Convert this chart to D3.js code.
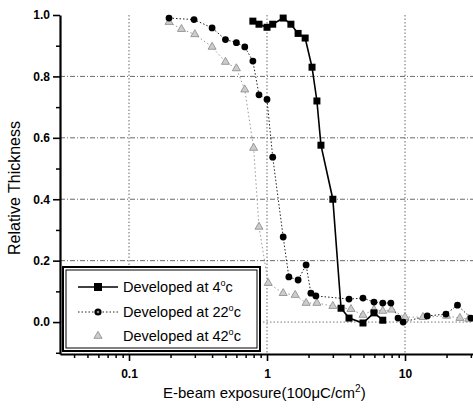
<!DOCTYPE html>
<html>
<head>
<meta charset="utf-8">
<script src="https://cdn.jsdelivr.net/npm/d3@7"></script>
<style>
body { margin:0; background:#fff; }
</style>
</head>
<body>
<div id="grafico"></div>
<script>
const WIDTH = 473;
const HEIGHT = 411;

// 4 C, black squares, solid line
const exp4 = [0.79, 0.875, 1.0, 1.1, 1.31, 1.49, 1.68, 1.89, 2.12, 2.3, 2.46, 3.0, 3.44, 3.93, 4.96, 5.96, 6.9];
const thick4 = [0.98, 0.97, 0.96, 0.97, 0.99, 0.97, 0.94, 0.925, 0.83, 0.72, 0.576, 0.40, 0.045, 0.013, -0.003, 0.03, 0.006];

// 22 C, black circles, dotted line
const exp22 = [0.195, 0.296, 0.40, 0.50, 0.60, 0.69, 0.79, 0.875, 1.0, 1.1, 1.31, 1.44, 1.68, 1.92, 2.08, 2.26, 3.93, 4.96, 5.96, 6.9, 7.9, 8.9, 9.7, 14.5, 19.8, 24, 30];
const thick22 = [0.99, 0.985, 0.958, 0.92, 0.91, 0.896, 0.85, 0.74, 0.725, 0.537, 0.277, 0.147, 0.137, 0.186, 0.094, 0.085, 0.075, 0.078, 0.065, 0.062, 0.062, 0.013, 0.0, 0.02, 0.026, 0.055, 0.013];

// 42 C, grey triangles, dotted line
const exp42 = [0.195, 0.24, 0.30, 0.40, 0.50, 0.60, 0.69, 0.80, 0.875, 1.02, 1.31, 1.6, 1.92, 2.3, 3.0, 4.06, 4.96, 5.96, 6.9, 8.0, 10, 13.5, 20, 25, 29];
const thick42 = [0.977, 0.954, 0.937, 0.896, 0.847, 0.826, 0.757, 0.567, 0.31, 0.127, 0.094, 0.088, 0.062, 0.062, 0.052, 0.042, 0.023, 0.04, 0.036, 0.04, 0.016, 0.016, 0.02, 0.013, 0.01];

const xTicks = [0.1, 1, 10];
const yTicks = [0.0, 0.2, 0.4, 0.6, 0.8, 1.0];
const legendNames = ["4", "22", "42"];

let svg = d3.select("#grafico")
    .append("svg")
    .attr("width", WIDTH)
    .attr("height", HEIGHT);

let x = d3.scaleLog()
    .domain([Math.pow(10, -1.5), Math.pow(10, 1.5)])
    .range([60, 474]);
let y = d3.scaleLinear()
    .domain([-0.104, 1.0])
    .range([354, 15]);

// grid
let grid = svg.append("g");
grid.selectAll(".hgrid")
    .data(yTicks.filter(d => d > 0 && d < 1))
    .enter()
    .append("line")
    .attr("x1", 60).attr("x2", 474)
    .attr("y1", d => y(d)).attr("y2", d => y(d))
    .style("stroke", "#444")
    .style("stroke-width", 0.8)
    .style("stroke-dasharray", "5,2,1,2");
grid.append("line")
    .attr("x1", 60).attr("x2", 474)
    .attr("y1", y(0)).attr("y2", y(0))
    .style("stroke", "#555")
    .style("stroke-width", 0.8)
    .style("stroke-dasharray", "1.5,2");
grid.selectAll(".vgrid")
    .data(xTicks)
    .enter()
    .append("line")
    .attr("x1", d => x(d)).attr("x2", d => x(d))
    .attr("y1", 15).attr("y2", 354)
    .style("stroke", "#444")
    .style("stroke-width", 0.8)
    .style("stroke-dasharray", "1.5,2");

// axes
let xMinor = [];
for (let e = -2; e <= 1; e++) {
    for (let m = 1; m <= 9; m++) {
        let v = m * Math.pow(10, e);
        if (v >= x.domain()[0] && v <= x.domain()[1]) xMinor.push(v);
    }
}
svg.append("g")
    .attr("transform", "translate(0,354)")
    .call(d3.axisBottom(x).tickValues(xMinor.filter(v => !xTicks.includes(v))).tickSize(4).tickFormat(""))
    .call(g => g.select(".domain").remove())
    .call(g => g.selectAll("line").style("stroke-width", 1.5));
let xAxis = svg.append("g")
    .attr("transform", "translate(0,354)")
    .call(d3.axisBottom(x).tickValues(xTicks).tickSize(7).tickSizeOuter(0).tickPadding(8)
        .tickFormat(d => d3.format("~g")(d)));
xAxis.select(".domain").style("stroke-width", 2.2);
xAxis.selectAll("line").style("stroke-width", 1.6);
xAxis.selectAll("text")
    .style("font-family", "Arial, 'Liberation Sans'")
    .style("font-size", "12px")
    .style("font-weight", "bold");

let yMinor = d3.range(-0.1, 1.0, 0.2).map(v => +v.toFixed(1));
svg.append("g")
    .attr("transform", "translate(60,0)")
    .call(d3.axisLeft(y).tickValues(yMinor).tickSize(4).tickFormat(""))
    .call(g => g.select(".domain").remove())
    .call(g => g.selectAll("line").style("stroke-width", 1.5));
let yAxis = svg.append("g")
    .attr("transform", "translate(60,0)")
    .call(d3.axisLeft(y).tickValues(yTicks).tickSize(7).tickSizeOuter(0).tickPadding(3)
        .tickFormat(d3.format(".1f")));
yAxis.select(".domain").style("stroke-width", 2.2);
yAxis.selectAll("line").style("stroke-width", 1.6);
yAxis.selectAll("text")
    .style("font-family", "Arial, 'Liberation Sans'")
    .style("font-size", "12px")
    .style("font-weight", "bold");

// series
let line = d3.line().x(d => x(d[0])).y(d => y(d[1]));
let s4 = d3.zip(exp4, thick4);
let s22 = d3.zip(exp22, thick22);
let s42 = d3.zip(exp42, thick42);

svg.append("path").datum(s42).attr("d", line)
    .style("fill", "none").style("stroke", "#999").style("stroke-width", 1)
    .style("stroke-dasharray", "1.5,2.5");
svg.append("path").datum(s22).attr("d", line)
    .style("fill", "none").style("stroke", "#222").style("stroke-width", 1)
    .style("stroke-dasharray", "1.5,2");
svg.append("path").datum(s4).attr("d", line)
    .style("fill", "none").style("stroke", "#000").style("stroke-width", 1.6);

let tri = d3.symbol().type(d3.symbolTriangle).size(28);
svg.selectAll(".t42").data(s42).enter().append("path")
    .attr("transform", d => "translate(" + x(d[0]) + "," + y(d[1]) + ")")
    .attr("d", tri)
    .style("fill", "#ccc").style("stroke", "#888").style("stroke-width", 0.8);
svg.selectAll(".c22").data(s22).enter().append("circle")
    .attr("cx", d => x(d[0])).attr("cy", d => y(d[1])).attr("r", 3.4)
    .style("fill", "#000");
svg.selectAll(".q4").data(s4).enter().append("rect")
    .attr("x", d => x(d[0]) - 3.5).attr("y", d => y(d[1]) - 3.5)
    .attr("width", 7).attr("height", 7)
    .style("fill", "#000");

// legend
let leg = svg.append("g");
leg.append("rect").attr("x", 63).attr("y", 267).attr("width", 197).attr("height", 84)
    .style("fill", "#fff").style("stroke", "#000").style("stroke-width", 2);
leg.append("rect").attr("x", 66).attr("y", 270).attr("width", 191).attr("height", 78)
    .style("fill", "none").style("stroke", "#000").style("stroke-width", 1);

let legY = [287, 312, 336];
leg.append("line").attr("x1", 78).attr("x2", 118).attr("y1", legY[0]).attr("y2", legY[0])
    .style("stroke", "#000").style("stroke-width", 1.6);
leg.append("rect").attr("x", 94).attr("y", legY[0] - 4).attr("width", 8).attr("height", 8).style("fill", "#000");
leg.append("line").attr("x1", 78).attr("x2", 118).attr("y1", legY[1]).attr("y2", legY[1])
    .style("stroke", "#222").style("stroke-width", 1).style("stroke-dasharray", "1.5,2");
leg.append("circle").attr("cx", 98).attr("cy", legY[1]).attr("r", 3.6).style("fill", "#000");
leg.append("circle").attr("cx", 98).attr("cy", legY[1]).attr("r", 1.3).style("fill", "#888");
leg.append("path").attr("transform", "translate(98," + legY[2] + ")").attr("d", tri)
    .style("fill", "#ccc").style("stroke", "#888").style("stroke-width", 0.8);

legendNames.forEach((n, i) => {
    let t = leg.append("text")
        .attr("x", 123).attr("y", legY[i] + 5)
        .style("font-family", "Arial, 'Liberation Sans'")
        .style("font-size", "14.5px")
        .style("fill", "#000");
    t.append("tspan").text("Developed at " + n);
    t.append("tspan").attr("dy", -6).style("font-size", "9px").text("o");
    t.append("tspan").attr("dy", 6).text("c");
});

// axis labels
svg.append("text")
    .attr("transform", "translate(20,188) rotate(-90)")
    .attr("text-anchor", "middle")
    .style("font-family", "Arial, 'Liberation Sans'")
    .style("font-size", "16px")
    .style("fill", "#000")
    .text("Relative Thickness");

let xl = svg.append("text")
    .attr("x", 163).attr("y", 398)
    .style("font-family", "Arial, 'Liberation Sans'")
    .style("font-size", "15px")
    .style("fill", "#000");
xl.append("tspan").text("E-beam exposure(100\u03bcC/cm");
xl.append("tspan").attr("dy", -6).style("font-size", "10px").text("2");
xl.append("tspan").attr("dy", 6).text(")");
</script>
</body>
</html>
